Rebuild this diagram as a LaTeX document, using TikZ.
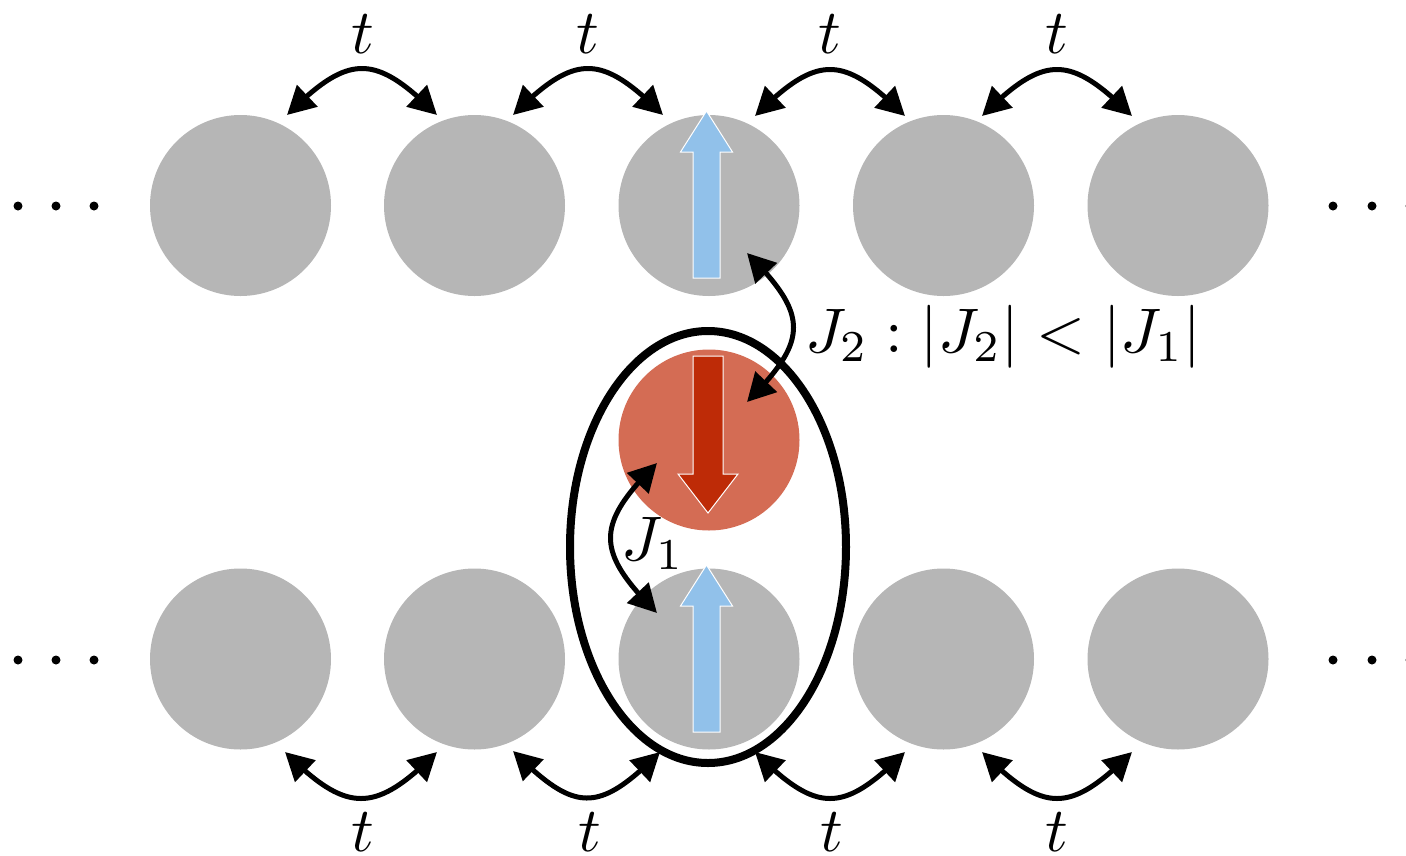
\documentclass[tikz,border=0pt]{standalone}
\usetikzlibrary{arrows.meta,bending}
\definecolor{sitegray}{HTML}{B6B6B6}
\definecolor{spinblue}{HTML}{91C1EA}
\definecolor{sitered}{HTML}{D46C54}
\definecolor{spinred}{HTML}{BE2B07}
\begin{document}
\begin{tikzpicture}[x=1pt,y=-1pt,
  site/.style={circle,fill=sitegray,minimum size=181pt,inner sep=0pt},
  redsite/.style={circle,fill=sitered,minimum size=181pt,inner sep=0pt},
  dotnode/.style={circle,fill=black,minimum size=9pt,inner sep=0pt},
  hop/.style={line width=5pt,{Triangle[length=28pt,width=29pt]}-{Triangle[length=28pt,width=29pt]}},
  lbl/.style={scale=6.3,transform shape,inner sep=0pt},
  spin/.style={draw=white,line width=1pt}]
\path[use as bounding box,clip] (0,0) rectangle (1406,855);

% sites
\node[site] (c1) at (240.5,205.5) {};
\node[site] (c2) at (474.5,205.5) {};
\node[site] (c3) at (709,205.5) {};
\node[site] (c4) at (943.5,205.5) {};
\node[site] (c5) at (1178,205.5) {};
\node[site] (b1) at (240.5,659) {};
\node[site] (b2) at (474.5,659) {};
\node[site] (b3) at (709,659) {};
\node[site] (b4) at (943.5,659) {};
\node[site] (b5) at (1178,659) {};
\node[redsite] (r) at (709,440) {};

% dots
\foreach \x/\n in {18/1,56/2,94/3,1333/4,1372/5,1410/6}{
  \node[dotnode] (dt\n) at (\x,206) {};
  \node[dotnode] (db\n) at (\x,660) {};
}

% spins
\fill[spinblue,spin] (693,278) -- (693,152) -- (680.5,152) -- (706.5,111) -- (732.5,152) -- (720,152) -- (720,278) -- cycle;
\fill[spinblue,spin] (693,732) -- (693,606) -- (680.5,606) -- (706.5,565) -- (732.5,606) -- (720,606) -- (720,732) -- cycle;
\fill[spinred,spin] (693,356) -- (723,356) -- (723,474) -- (738,474) -- (708,513) -- (678,474) -- (693,474) -- cycle;

% dimer ellipse
\draw[line width=8pt] (708,547) ellipse [x radius=138pt, y radius=216pt];

% hopping coordinates (top)
\coordinate (ta1) at (287,115);  \coordinate (ta2) at (437,115);
\coordinate (tb1) at (513,115);  \coordinate (tb2) at (663,115);
\coordinate (tc1) at (755,116);  \coordinate (tc2) at (905,116);
\coordinate (td1) at (982,116);  \coordinate (td2) at (1132,116);
% hopping coordinates (bottom)
\coordinate (ba1) at (285,752);  \coordinate (ba2) at (437,752);
\coordinate (bb1) at (513,751);  \coordinate (bb2) at (660,752);
\coordinate (bc1) at (755,752);  \coordinate (bc2) at (905,752);
\coordinate (bd1) at (982,752);  \coordinate (bd2) at (1132,752);

\foreach \p in {a,b,c,d}{
  \draw[hop] (t\p1) .. controls +(62,-62) and +(-62,-62) .. (t\p2);
  \draw[hop] (b\p1) .. controls +(62,62) and +(-62,62) .. (b\p2);
}

\node[lbl,anchor=base] (tt1) at (363,53) {$t$};
\node[lbl,anchor=base] (tt2) at (588,53) {$t$};
\node[lbl,anchor=base] (tt3) at (830,53) {$t$};
\node[lbl,anchor=base] (tt4) at (1057,53) {$t$};
\node[lbl,anchor=base] (bt1) at (363,851) {$t$};
\node[lbl,anchor=base] (bt2) at (590,851) {$t$};
\node[lbl,anchor=base] (bt3) at (832,851) {$t$};
\node[lbl,anchor=base] (bt4) at (1057,851) {$t$};

% exchange couplings
\coordinate (j2a) at (747,253);
\coordinate (j2b) at (747,402);
\draw[hop] (j2a) .. controls +(62,62) and +(62,-62) .. (j2b);
\coordinate (j1a) at (657,463);
\coordinate (j1b) at (657,613);
\draw[hop] (j1a) .. controls +(-62,62) and +(-62,-62) .. (j1b);

\node[lbl,anchor=base west] (j2lbl) at (804,352) {$J_2:|J_2|<|J_1|$};
\node[lbl,anchor=base west] (j1lbl) at (620,560) {$J_1$};
\end{tikzpicture}
\end{document}
